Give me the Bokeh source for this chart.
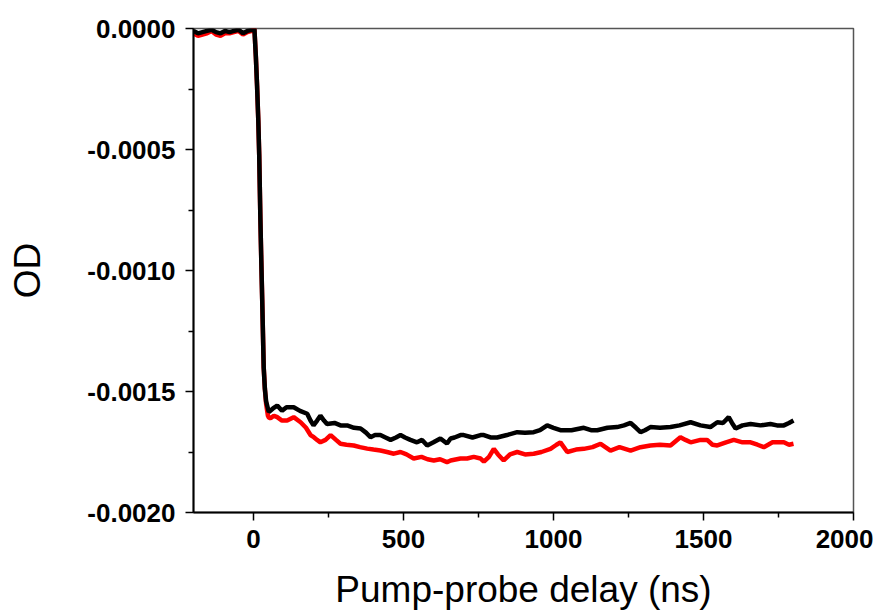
from bokeh.plotting import figure
from bokeh.models import Range1d, FixedTicker, PrintfTickFormatter
from bokeh.embed import file_html
from bokeh.resources import INLINE

# Black trace (ns, OD)
black_t = [-200, -185, -170, -155, -140, -125, -110, -95, -80, -65, -50, -35, -20, -5,
           3, 8, 12, 16, 19, 23, 26, 29, 34, 38, 42, 48,
           51, 65, 79, 95, 110, 134, 155, 179, 190, 200, 212, 223, 235, 245, 270, 290,
           312, 335, 357, 375, 390, 405, 423, 440, 457, 475, 490, 505, 523, 545, 562,
           579, 600, 623, 645, 657, 670, 690, 701, 730, 757, 768, 790, 812, 845, 879,
           905, 934, 955, 979, 1000, 1023, 1060, 1101, 1125, 1146, 1180, 1212, 1235,
           1257, 1275, 1290, 1305, 1323, 1355, 1390, 1420, 1457, 1490, 1523, 1546,
           1565, 1584, 1595, 1607, 1630, 1657, 1690, 1723, 1745, 1768, 1785, 1800]
black_od = [-0.00001, -0.00002, -0.000015, -0.00001, -0.000005, -0.000015, -0.00002,
            -0.00001, -0.000015, -0.00001, -0.000005, -0.00002, -0.00001, -0.000005,
            0.0, -0.00012, -0.00024, -0.00038, -0.00052, -0.00079, -0.00096, -0.00112,
            -0.0014, -0.00149, -0.00154, -0.00157,
            -0.001585, -0.00157, -0.001558, -0.00158, -0.001565, -0.001565, -0.00158,
            -0.001592, -0.00162, -0.00164, -0.00162, -0.0016, -0.00162, -0.001634,
            -0.00163, -0.00164, -0.00164, -0.00165, -0.001653, -0.00167, -0.001689,
            -0.00168, -0.00168, -0.00169, -0.0017, -0.00169, -0.00168, -0.00169,
            -0.0017, -0.00171, -0.0017, -0.001723, -0.00171, -0.001694, -0.001715,
            -0.001694, -0.00169, -0.00168, -0.00168, -0.00169, -0.00168, -0.00168,
            -0.00169, -0.00169, -0.00168, -0.001668, -0.00167, -0.001668, -0.00166,
            -0.00164, -0.00165, -0.00166, -0.00166, -0.00165, -0.00166, -0.00166,
            -0.00165, -0.001647, -0.00164, -0.00163, -0.00165, -0.001668, -0.00166,
            -0.001647, -0.00165, -0.001647, -0.00164, -0.001627, -0.00164, -0.001647,
            -0.001627, -0.00163, -0.001606, -0.00163, -0.001653, -0.00164, -0.001634,
            -0.00164, -0.001634, -0.00164, -0.00164, -0.00163, -0.00162]

# Red trace (ns, OD)
red_t = [-200, -185, -170, -155, -140, -125, -110, -95, -80, -65, -50, -35, -20, -5,
         3, 8, 12, 16, 19, 23, 26, 29, 34, 38, 42, 48,
         52, 57, 68, 79, 95, 112, 134, 157, 175, 190, 201, 212, 223, 240, 257, 275,
         290, 310, 334, 355, 379, 400, 423, 445, 468, 490, 510, 534, 560, 580, 601,
         622, 645, 657, 690, 712, 734, 757, 768, 785, 801, 815, 834, 855, 879, 905,
         934, 960, 990, 1010, 1023, 1046, 1075, 1101, 1130, 1157, 1190, 1220, 1257,
         1290, 1323, 1355, 1390, 1423, 1440, 1457, 1490, 1512, 1530, 1546, 1575,
         1601, 1630, 1657, 1680, 1701, 1730, 1768, 1785, 1800]
red_od = [-0.00002, -0.00003, -0.000025, -0.00002, -0.00001, -0.000025, -0.00003,
          -0.00002, -0.00002, -0.000015, -0.00001, -0.000025, -0.000015, -0.00001,
          0.0, -0.00012, -0.00024, -0.00038, -0.00052, -0.00079, -0.00096, -0.00112,
          -0.0014, -0.00149, -0.00155, -0.0016,
          -0.00161, -0.00161, -0.0016, -0.001606, -0.00162, -0.00162, -0.001606,
          -0.001627, -0.00165, -0.00168, -0.001689, -0.0017, -0.00171, -0.0017,
          -0.00168, -0.0017, -0.001716, -0.00172, -0.001723, -0.00173, -0.001736,
          -0.00174, -0.001744, -0.00175, -0.001757, -0.00175, -0.00176, -0.001777,
          -0.00177, -0.00178, -0.001785, -0.00178, -0.001792, -0.001785, -0.001777,
          -0.001777, -0.00177, -0.001777, -0.00179, -0.00177, -0.001737, -0.00176,
          -0.001785, -0.00176, -0.00175, -0.00176, -0.001757, -0.00175, -0.001737,
          -0.00172, -0.00171, -0.00175, -0.00174, -0.001737, -0.00173, -0.001716,
          -0.001744, -0.00173, -0.001744, -0.00173, -0.001723, -0.00172, -0.001723,
          -0.001689, -0.0017, -0.00171, -0.0017, -0.0017, -0.00172, -0.001723,
          -0.00171, -0.0017, -0.00171, -0.00171, -0.00172, -0.00173, -0.00171,
          -0.00171, -0.00172, -0.001716]

x_major = [0, 500, 1000, 1500, 2000]
x_minor = [250, 750, 1250, 1750]
y_major = [0.0, -0.0005, -0.0010, -0.0015, -0.0020]
y_minor = [-0.00025, -0.00075, -0.00125, -0.00175]

p = figure(frame_width=660, frame_height=484, output_backend="svg", toolbar_location=None,
           x_range=Range1d(-200, 2000), y_range=Range1d(-0.002, 0.0),
           min_border_left=193, min_border_top=28, min_border_right=20, min_border_bottom=85)
p.background_fill_color = "white"
p.border_fill_color = "white"
p.grid.visible = False
p.outline_line_color = "#555555"
p.outline_line_width = 1.5

p.line(red_t, red_od, line_color="#ff0000", line_width=4.5)
p.line(black_t, black_od, line_color="#000000", line_width=4.5)

p.xaxis.ticker = FixedTicker(ticks=x_major, minor_ticks=x_minor)
p.yaxis.ticker = FixedTicker(ticks=y_major, minor_ticks=y_minor)
p.yaxis.formatter = PrintfTickFormatter(format="%.4f")

p.xaxis.axis_label = "Pump-probe delay (ns)"
p.yaxis.axis_label = "OD"

for ax in (p.xaxis[0], p.yaxis[0]):
    ax.axis_line_color = "black"
    ax.axis_line_width = 2
    ax.major_tick_line_color = "black"
    ax.major_tick_line_width = 1.5
    ax.minor_tick_line_color = "black"
    ax.minor_tick_line_width = 1.5
    ax.major_tick_out = 8
    ax.major_tick_in = 0
    ax.minor_tick_out = 5
    ax.minor_tick_in = 0
    ax.major_label_text_font = "Liberation Sans"
    ax.major_label_text_font_style = "bold"
    ax.major_label_text_font_size = "26px"
    ax.major_label_text_color = "black"
    ax.axis_label_text_font = "Liberation Sans"
    ax.axis_label_text_font_style = "normal"
    ax.axis_label_text_font_size = "37px"
    ax.axis_label_text_color = "black"

p.xaxis.major_label_standoff = 9
p.xaxis.axis_label_standoff = 18
p.yaxis.major_label_standoff = 10
p.yaxis.axis_label_standoff = 36

open("out.html", "w").write(file_html(p, INLINE))
